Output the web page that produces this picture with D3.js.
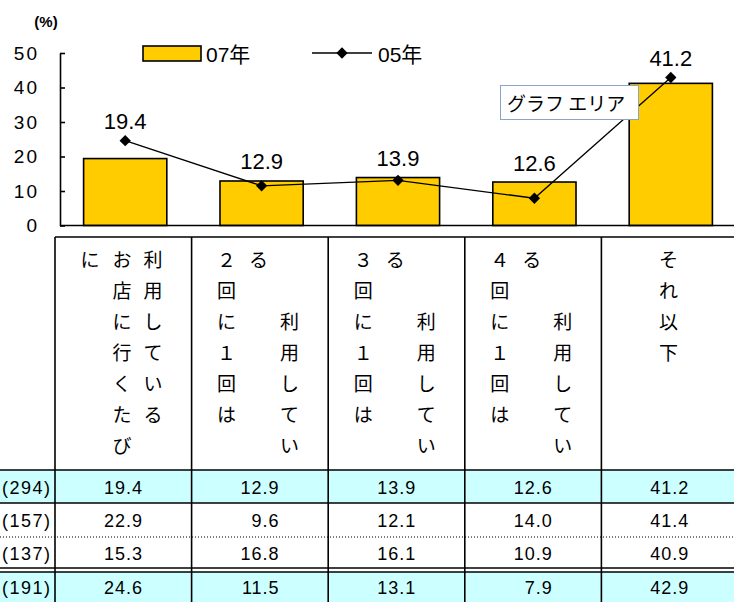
<!DOCTYPE html>
<html>
<head>
<meta charset="utf-8">
<script src="https://cdn.jsdelivr.net/npm/d3@7"></script>
<style>
  body { margin: 0; background: #fff; }
  svg { display: block; }
  .num { font-family: "Liberation Sans", Arial, sans-serif; }
  .jp { font-family: "Noto Sans CJK JP", sans-serif; }
</style>
</head>
<body>
<script>
var categories = ["お店に行くたびに利用している", "2回に1回は利用している", "3回に1回は利用している", "4回に1回は利用している", "それ以下"];
var seriesNames = ["07年", "05年"];
var values07 = [19.4, 12.9, 13.9, 12.6, 41.2];
var values05 = [24.6, 11.5, 13.1, 7.9, 42.9];
var yTicks = [0, 10, 20, 30, 40, 50];

// header text, vertical, three slots per cell (left, middle, right)
var headerSlots = [
  ["に", "お店に行くたび", "利用している"],
  ["２回に１回は", "る", "　　利用してい"],
  ["３回に１回は", "る", "　　利用してい"],
  ["４回に１回は", "る", "　　利用してい"],
  ["", "それ以下", ""]
];

var rowLabels = ["(294)", "(157)", "(137)", "(191)"];
var rowAll = [19.4, 12.9, 13.9, 12.6, 41.2];
var rowA = [22.9, 9.6, 12.1, 14.0, 41.4];
var rowB = [15.3, 16.8, 16.1, 10.9, 40.9];
var row05 = [24.6, 11.5, 13.1, 7.9, 42.9];
var tableRows = [rowAll, rowA, rowB, row05];

var W = 734, H = 602;
var svg = d3.select("body").append("svg").attr("width", W).attr("height", H);

var y = d3.scaleLinear().domain([0, 50]).range([225.5, 53]);
var xBar = d3.scaleBand().domain(categories).range([57, 739]).paddingInner(0.39).paddingOuter(0.195);
var xCol = d3.scaleBand().domain(categories).range([55, 738]);

// ---- table ----
var tTop = 237;
var rowTops = [470, 503, 537, 572];
var rowBottoms = [503, 537, 568, 604];
var shaded = [true, false, false, true];

var table = svg.append("g");

table.selectAll("rect.bg")
  .data(rowTops)
  .enter().append("rect")
  .attr("x", 0)
  .attr("y", function(d) { return d; })
  .attr("width", W)
  .attr("height", function(d, i) { return rowBottoms[i] - d; })
  .attr("fill", function(d, i) { return shaded[i] ? "#ccffff" : "#fff"; });

// header characters
categories.forEach(function(c, ci) {
  var x0 = xCol(c);
  var slotX = [35, 67, 98];
  headerSlots[ci].forEach(function(str, si) {
    Array.from(str).forEach(function(ch, k) {
      if (ch === "　") return;
      table.append("text")
        .attr("class", "jp")
        .attr("x", x0 + slotX[si])
        .attr("y", 258 + k * 31)
        .attr("text-anchor", "middle")
        .attr("dominant-baseline", "central")
        .attr("font-size", 19)
        .attr("fill", "#000")
        .text(ch);
    });
  });
});

// row labels and values
tableRows.forEach(function(row, ri) {
  var cy = (rowTops[ri] + Math.min(rowBottoms[ri], 602)) / 2 + 1;
  table.append("text")
    .attr("class", "num")
    .attr("x", 2)
    .attr("y", cy)
    .attr("dominant-baseline", "central")
    .attr("font-size", 18)
    .attr("letter-spacing", 1.5)
    .text(rowLabels[ri]);
  table.selectAll(null)
    .data(row)
    .enter().append("text")
    .attr("class", "num")
    .attr("x", function(d, i) { return xCol(categories[i]) + 88; })
    .attr("y", cy)
    .attr("text-anchor", "end")
    .attr("dominant-baseline", "central")
    .attr("font-size", 18)
    .attr("letter-spacing", 1)
    .text(function(d) { return d.toFixed(1); });
});

// grid lines
var colEdges = categories.map(function(c) { return xCol(c); }).concat([xCol.range()[1]]);
table.selectAll("line.v")
  .data(colEdges)
  .enter().append("line")
  .attr("x1", function(d) { return d; })
  .attr("x2", function(d) { return d; })
  .attr("y1", tTop)
  .attr("y2", H)
  .attr("stroke", "#000")
  .attr("stroke-width", 1.6);

table.append("line").attr("x1", 55).attr("x2", W).attr("y1", tTop).attr("y2", tTop)
  .attr("stroke", "#000").attr("stroke-width", 1.6);
[470, 503, 568, 572].forEach(function(yy) {
  table.append("line").attr("x1", 0).attr("x2", W).attr("y1", yy).attr("y2", yy)
    .attr("stroke", "#000").attr("stroke-width", 1.6);
});
table.append("line").attr("x1", 0).attr("x2", W).attr("y1", 537).attr("y2", 537)
  .attr("stroke", "#000").attr("stroke-width", 1).attr("stroke-dasharray", "1,2");

// ---- chart ----
var chart = svg.append("g");

var yAxis = d3.axisLeft(y).tickValues(yTicks).tickSizeInner(-5).tickSizeOuter(0).tickPadding(21);
var ax = chart.append("g")
  .attr("transform", "translate(60,0)")
  .call(yAxis);
ax.select(".domain").attr("stroke", "#000").attr("stroke-width", 1.6);
ax.selectAll(".tick line").attr("stroke", "#000").attr("stroke-width", 1.6);
ax.selectAll(".tick text")
  .attr("class", "num")
  .attr("font-size", 19)
  .attr("letter-spacing", 2)
  .attr("fill", "#000");

chart.append("text")
  .attr("class", "num")
  .attr("x", 46)
  .attr("y", 27)
  .attr("text-anchor", "middle")
  .attr("font-size", 15)
  .attr("font-weight", "bold")
  .text("(%)");

chart.selectAll("rect.bar")
  .data(values07)
  .enter().append("rect")
  .attr("class", "bar")
  .attr("x", function(d, i) { return xBar(categories[i]); })
  .attr("y", function(d) { return y(d); })
  .attr("width", xBar.bandwidth())
  .attr("height", function(d) { return y(0) - y(d); })
  .attr("fill", "#ffcc00")
  .attr("stroke", "#000")
  .attr("stroke-width", 1.6);

chart.append("line")
  .attr("x1", 60).attr("x2", W)
  .attr("y1", y(0)).attr("y2", y(0))
  .attr("stroke", "#000").attr("stroke-width", 1.6);

var cx = function(i) { return xBar(categories[i]) + xBar.bandwidth() / 2; };

var line = d3.line()
  .x(function(d, i) { return cx(i); })
  .y(function(d) { return y(d); });

chart.append("path")
  .datum(values05)
  .attr("d", line)
  .attr("fill", "none")
  .attr("stroke", "#000")
  .attr("stroke-width", 1.3);

var marker = d3.symbol().type(d3.symbolSquare).size(64);
chart.selectAll("path.pt")
  .data(values05)
  .enter().append("path")
  .attr("class", "pt")
  .attr("d", marker)
  .attr("transform", function(d, i) { return "translate(" + cx(i) + "," + y(d) + ") rotate(45)"; })
  .attr("fill", "#000");

chart.selectAll("text.lbl")
  .data(values07)
  .enter().append("text")
  .attr("class", "num")
  .attr("x", function(d, i) { return cx(i); })
  .attr("y", function(d, i) { return Math.min(y(d), y(values05[i])) - 19; })
  .attr("text-anchor", "middle")
  .attr("dominant-baseline", "central")
  .attr("font-size", 22)
  .text(function(d) { return d.toFixed(1); });

// legend
var lg = chart.append("g");
lg.append("rect")
  .attr("x", 143).attr("y", 46).attr("width", 58).attr("height", 15)
  .attr("fill", "#ffcc00").attr("stroke", "#000").attr("stroke-width", 1.6);
lg.append("text")
  .attr("x", 206).attr("y", 54)
  .attr("dominant-baseline", "central")
  .attr("font-size", 21)
  .attr("font-family", "'Liberation Sans', 'Noto Sans CJK JP', sans-serif")
  .text(seriesNames[0]);
lg.append("line")
  .attr("x1", 312).attr("x2", 372).attr("y1", 53).attr("y2", 53)
  .attr("stroke", "#000").attr("stroke-width", 1.5);
lg.append("path")
  .attr("d", marker)
  .attr("transform", "translate(342,53) rotate(45)")
  .attr("fill", "#000");
lg.append("text")
  .attr("x", 378).attr("y", 54)
  .attr("dominant-baseline", "central")
  .attr("font-size", 21)
  .attr("font-family", "'Liberation Sans', 'Noto Sans CJK JP', sans-serif")
  .text(seriesNames[1]);

// excel tooltip left in the screenshot
var tip = chart.append("g");
tip.append("rect")
  .attr("x", 500.5).attr("y", 85.5).attr("width", 138).attr("height", 34)
  .attr("fill", "#fff").attr("stroke", "#8aa4c8").attr("stroke-width", 1);
tip.append("text")
  .attr("class", "jp")
  .attr("x", 507).attr("y", 102)
  .attr("dominant-baseline", "central")
  .attr("font-size", 19)
  .text("グラフ エリア");
</script>
</body>
</html>
